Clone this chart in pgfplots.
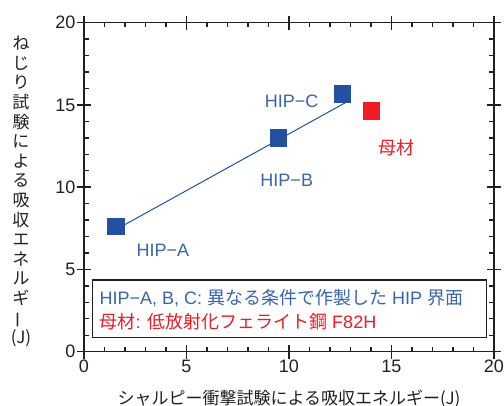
\documentclass[border=0pt]{standalone}
\usepackage{pgfplots}
\pgfplotsset{compat=1.18}
\usepackage{fontspec}
\setmainfont{Liberation Sans}
\newfontfamily\cjk{Noto Sans CJK JP}
\definecolor{mblue}{HTML}{2350A0}
\definecolor{tblue}{HTML}{3A63B0}
\definecolor{mred}{HTML}{EE1C25}
\definecolor{axblack}{HTML}{231F20}
\begin{document}
\begin{tikzpicture}[x=1pt,y=1pt]
\useasboundingbox (0,0) rectangle (504,406);
\pgfplotsset{
  common/.style={
    at={(84pt,54.3pt)}, anchor=south west, scale only axis,
    width=410pt, height=329pt,
    xmin=0, xmax=20, ymin=0, ymax=20,
    xtick={0,5,10,15,20}, ytick={0,5,10,15,20},
    axis line style={line width=1.4pt, color=axblack},
    every tick/.style={line width=1.4pt, color=axblack},
  }
}
% outward major ticks only
\begin{axis}[common, tick align=outside, major tick length=7pt,
  xticklabels={}, yticklabels={}]
\end{axis}
\begin{axis}[common, tick align=inside, major tick length=7pt, minor tick length=4.5pt,
  minor x tick num=4, minor y tick num=4,
  tick label style={font=\fontsize{18}{20}\selectfont, color=axblack},
  /pgf/number format/assume math mode=true,
  xticklabel style={yshift=-5pt},
  yticklabel style={xshift=-5pt},
  clip=false]
\addplot[mblue, line width=1pt, no marks] coordinates {(1.55,7.42) (12.8,15.17)};
\addplot[mblue, only marks, mark=square*, mark size=8.3pt, mark options={fill=mblue, draw=mblue, line width=0pt}] coordinates {(1.55,7.6) (9.48,13.0) (12.6,15.67)};
\addplot[mred, only marks, mark=square*, mark size=8.3pt, mark options={fill=mred, draw=mred, line width=0pt}] coordinates {(14.03,14.65)};
\node[font=\fontsize{18}{20}\selectfont, text=tblue] at (axis cs:3.85,6.18) {HIP−A};
\node[font=\fontsize{18}{20}\selectfont, text=tblue] at (axis cs:9.89,10.44) {HIP−B};
\node[font=\fontsize{18}{20}\selectfont, text=tblue] at (axis cs:10.13,15.23) {HIP−C};
\node[font=\cjk\fontsize{18}{20}\selectfont, text=mred] at (axis cs:15.25,12.38) {母材};
\draw[line width=1.4pt, color=axblack, fill=white] (axis cs:0.42,0.875) rectangle (axis cs:19.64,4.36);
\node[anchor=west, inner sep=0, font=\fontsize{18}{20}\selectfont, text=tblue] at (axis cs:0.75,3.28) {HIP−A, B, C: {\cjk 異なる条件で作製した} HIP {\cjk 界面}};
\node[anchor=west, inner sep=0, font=\fontsize{18}{20}\selectfont, text=mred] at (axis cs:0.75,1.82) {{\cjk 母材}: {\cjk 低放射化フェライト鋼} F82H};
\end{axis}
\node[font=\cjk\fontsize{17}{19.6}\selectfont, align=center, anchor=north, inner sep=0, text=axblack] at (21,370) {ね\\じ\\り\\試\\験\\に\\よ\\る\\吸\\収\\エ\\ネ\\ル\\ギ\\\rotatebox[origin=c]{90}{ー}\\(J)};
\node[font=\cjk\fontsize{17}{20}\selectfont, text=axblack] at (289,7) {シャルピー衝撃試験による吸収エネルギー(J)};
\end{tikzpicture}
\end{document}
